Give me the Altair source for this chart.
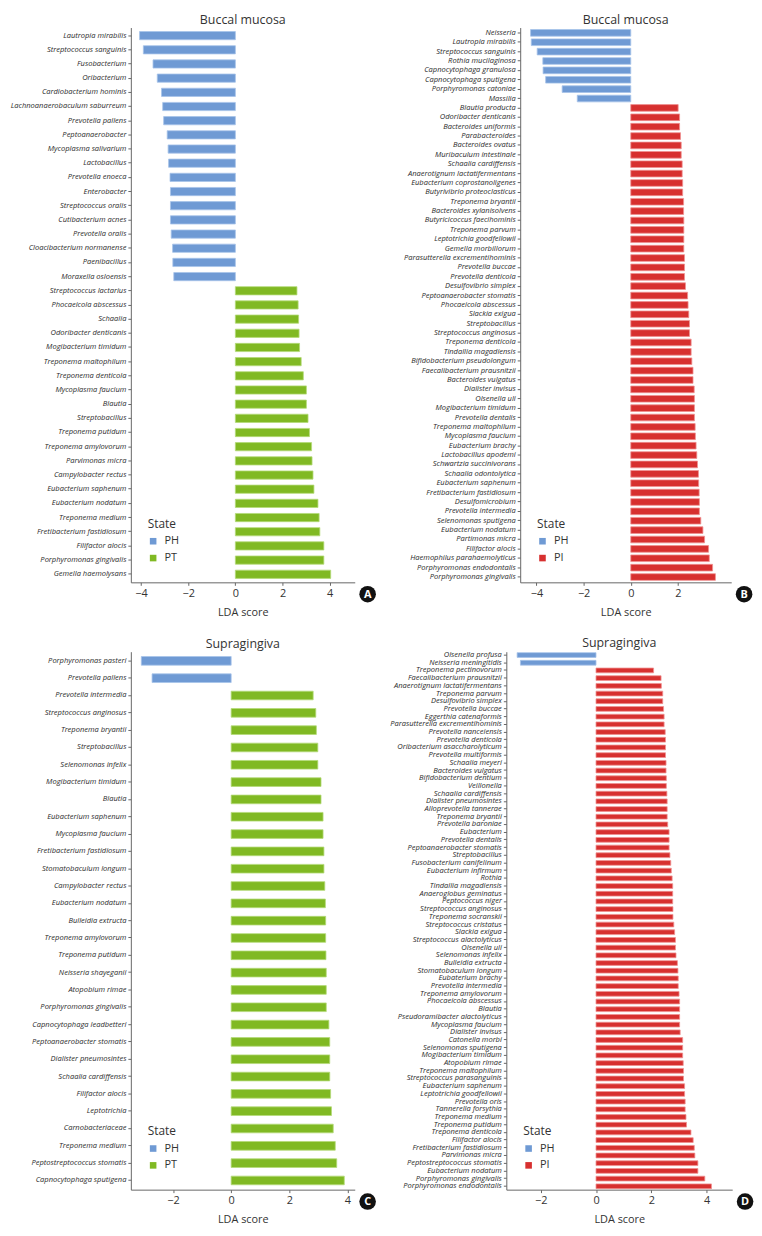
import altair as alt
import pandas as pd

BLUE, GREEN, RED = "#6f9ad4", "#80b923", "#d7302f"
BLUE_S, GREEN_S, RED_S = "#a8c3ea", "#b4da78", "#f09090"

# ---------------- Panel A : Buccal mucosa, PH vs PT ----------------
a_names = [
    "Lautropia mirabilis", "Streptococcus sanguinis", "Fusobacterium", "Oribacterium",
    "Cardiobacterium hominis", "Lachnoanaerobaculum saburreum", "Prevotella pallens",
    "Peptoanaerobacter", "Mycoplasma salivarium", "Lactobacillus", "Prevotella enoeca",
    "Enterobacter", "Streptococcus oralis", "Cutibacterium acnes", "Prevotella oralis",
    "Cloacibacterium normanense", "Paenibacillus", "Moraxella osloensis",
    "Streptococcus lactarius", "Phocaeicola abscessus", "Schaalia", "Odoribacter denticanis",
    "Mogibacterium timidum", "Treponema maltophilum", "Treponema denticola",
    "Mycoplasma faucium", "Blautia", "Streptobacillus", "Treponema putidum",
    "Treponema amylovorum", "Parvimonas micra", "Campylobacter rectus",
    "Eubacterium saphenum", "Eubacterium nodatum", "Treponema medium",
    "Fretibacterium fastidiosum", "Filifactor alocis", "Porphyromonas gingivalis",
    "Gemella haemolysans",
]
a_values = [
    -4.06, -3.90, -3.49, -3.31, -3.13, -3.08, -3.04, -2.89, -2.85, -2.83, -2.77, -2.75,
    -2.75, -2.75, -2.72, -2.66, -2.65, -2.61,
    2.61, 2.66, 2.68, 2.70, 2.72, 2.79, 2.88, 3.01, 3.01, 3.08, 3.14, 3.23, 3.25, 3.29,
    3.33, 3.50, 3.55, 3.58, 3.75, 3.75, 4.04,
]
a_states = ["PH"] * 18 + ["PT"] * 21

# ---------------- Panel B : Buccal mucosa, PH vs PI ----------------
b_names = [
    "Neisseria", "Lautropia mirabilis", "Streptococcus sanguinis", "Rothia mucilaginosa",
    "Capnocytophaga granulosa", "Capnocytophaga sputigena", "Porphyromonas catoniae", "Massilia",
    "Blautia producta", "Odoribacter denticanis", "Bacteroides uniformis", "Parabacteroides",
    "Bacteroides ovatus", "Muribaculum intestinale", "Schaalia cardiffensis",
    "Anaerotignum lactatifermentans", "Eubacterium coprostanoligenes",
    "Butyrivibrio proteoclasticus", "Treponema bryantii", "Bacteroides xylanisolvens",
    "Butyricicoccus faecihominis", "Treponema parvum", "Leptotrichia goodfellowii",
    "Gemella morbillorum", "Parasutterella excrementihominis", "Prevotella buccae",
    "Prevotella denticola", "Desulfovibrio simplex", "Peptoanaerobacter stomatis",
    "Phocaeicola abscessus", "Slackia exigua", "Streptobacillus", "Streptococcus anginosus",
    "Treponema denticola", "Tindallia magadiensis", "Bifidobacterium pseudolongum",
    "Faecalibacterium prausnitzii", "Bacteroides vulgatus", "Dialister invisus",
    "Olsenella uli", "Mogibacterium timidum", "Prevotella dentalis", "Treponema maltophilum",
    "Mycoplasma faucium", "Eubacterium brachy", "Lactobacillus apodemi",
    "Schwartzia succinivorans", "Schaalia odontolytica", "Eubacterium saphenum",
    "Fretibacterium fastidiosum", "Desulfomicrobium", "Prevotella intermedia",
    "Selenomonas sputigena", "Eubacterium nodatum", "Partimonas micra", "Filifactor alocis",
    "Haemophilus parahaemolyticus", "Porphyromonas endodontalis", "Porphyromonas gingivalis",
]
b_values = [
    -4.25, -4.22, -3.97, -3.73, -3.72, -3.61, -2.91, -2.27,
    2.01, 2.07, 2.07, 2.11, 2.14, 2.14, 2.18, 2.18, 2.20, 2.20, 2.24, 2.24, 2.25, 2.25,
    2.25, 2.25, 2.28, 2.28, 2.28, 2.32, 2.41, 2.43, 2.46, 2.49, 2.49, 2.56, 2.56, 2.59,
    2.64, 2.64, 2.69, 2.70, 2.70, 2.70, 2.73, 2.74, 2.77, 2.80, 2.83, 2.87, 2.88, 2.90,
    2.91, 2.91, 2.97, 3.06, 3.13, 3.30, 3.33, 3.47, 3.59,
]
b_states = ["PH"] * 8 + ["PI"] * 51

# ---------------- Panel C : Supragingiva, PH vs PT ----------------
c_names = [
    "Porphyromonas pasteri", "Prevotella pallens", "Prevotella intermedia",
    "Streptococcus anginosus", "Treponema bryantii", "Streptobacillus", "Selenomonas infelix",
    "Mogibacterium timidum", "Blautia", "Eubacterium saphenum", "Mycoplasma faucium",
    "Fretibacterium fastidiosum", "Stomatobaculum longum", "Campylobacter rectus",
    "Eubacterium nodatum", "Bulleidia extructa", "Treponema amylovorum", "Treponema putidum",
    "Neisseria shayeganii", "Atopobium rimae", "Porphyromonas gingivalis",
    "Capnocytophaga leadbetteri", "Peptoanaerobacter stomatis", "Dialister pneumosintes",
    "Schaalia cardiffensis", "Filifactor alocis", "Leptotrichia", "Carnobacteriaceae",
    "Treponema medium", "Peptostreptococcus stomatis", "Capnocytophaga sputigena",
]
c_values = [
    -3.09, -2.72,
    2.82, 2.91, 2.93, 2.98, 2.98, 3.09, 3.09, 3.16, 3.16, 3.19, 3.19, 3.22, 3.24, 3.25,
    3.25, 3.26, 3.27, 3.27, 3.27, 3.36, 3.39, 3.39, 3.39, 3.42, 3.45, 3.51, 3.58, 3.63, 3.89,
]
c_states = ["PH"] * 2 + ["PT"] * 29

# ---------------- Panel D : Supragingiva, PH vs PI ----------------
d_names = [
    "Olsenella profusa", "Neisseria meningitidis", "Treponema pectinovorum",
    "Faecalibacterium prausnitzii", "Anaerotignum lactatifermentans", "Treponema parvum",
    "Desulfovibrio simplex", "Prevotella buccae", "Eggerthia catenaformis",
    "Parasutterella excrementihominis", "Prevotella nanceiensis", "Prevotella denticola",
    "Oribacterium asaccharolyticum", "Prevotella multiformis", "Schaalia meyeri",
    "Bacteroides vulgatus", "Bifidobacterium dentium", "Veillonella", "Schaalia cardiffensis",
    "Dialister pneumosintes", "Alloprevotella tannerae", "Treponema bryantii",
    "Prevotella baroniae", "Eubacterium", "Prevotella dentalis", "Peptoanaerobacter stomatis",
    "Streptobacillus", "Fusobacterium canifelinum", "Eubacterium infirmum", "Rothia",
    "Tindallia magadiensis", "Anaeroglobus geminatus", "Peptococcus niger",
    "Streptococcus anginosus", "Treponema socranskii", "Streptococcus cristatus",
    "Slackia exigua", "Streptococcus alactolyticus", "Olsenella uli", "Selenomonas infelix",
    "Bulleidia extructa", "Stomatobaculum longum", "Eubaterium brachy", "Prevotella intermedia",
    "Treponema amylovorum", "Phocaeicola abscessus", "Blautia", "Pseudoramibacter alactolyticus",
    "Mycoplasma faucium", "Dialister invisus", "Catonella morbi", "Selenomonas sputigena",
    "Mogibacterium timidum", "Atopobium rimae", "Treponema maltophilum",
    "Streptococcus parasanguinis", "Eubacterium saphenum", "Leptotrichia goodfellowii",
    "Prevotella oris", "Tannerella forsythia", "Treponema medium", "Treponema putidum",
    "Treponema denticola", "Filifactor alocis", "Fretibacterium fastidiosum", "Parvimonas micra",
    "Peptostreptococcus stomatis", "Eubacterium nodatum", "Porphyromonas gingivalis",
    "Porphyromonas endodontalis",
]
d_values = [
    -2.85, -2.73,
    2.08, 2.35, 2.36, 2.41, 2.41, 2.44, 2.46, 2.46, 2.50, 2.51, 2.51, 2.51, 2.53, 2.53,
    2.54, 2.54, 2.56, 2.57, 2.57, 2.57, 2.59, 2.64, 2.64, 2.64, 2.67, 2.70, 2.72, 2.75,
    2.77, 2.77, 2.77, 2.78, 2.78, 2.81, 2.84, 2.87, 2.87, 2.89, 2.94, 2.96, 2.97, 2.97,
    3.00, 3.02, 3.02, 3.02, 3.02, 3.04, 3.13, 3.13, 3.13, 3.15, 3.16, 3.16, 3.20, 3.20,
    3.22, 3.22, 3.25, 3.27, 3.43, 3.51, 3.55, 3.57, 3.68, 3.68, 3.93, 4.17,
]
d_states = ["PH"] * 2 + ["PI"] * 68

FONT = "Open Sans"


def panel(names, values, states, title, groups, fills, strokes, width, height,
          xdomain, xticks, badge, p_inner, p_outer, y_extent):
    df = pd.DataFrame({"taxon": names, "lda": values, "State": states})
    df["base"] = 0.0
    bars = alt.Chart(df).mark_bar(strokeWidth=0.8).encode(
        x=alt.X("lda:Q",
                scale=alt.Scale(domain=xdomain, nice=False, zero=False),
                axis=alt.Axis(values=xticks, title="LDA score", grid=False)),
        x2="base:Q",
        y=alt.Y("taxon:N", sort=names, title=None,
                scale=alt.Scale(paddingInner=p_inner, paddingOuter=p_outer),
                axis=alt.Axis(minExtent=y_extent)),
        color=alt.Color("State:N", scale=alt.Scale(domain=groups, range=fills),
                        legend=alt.Legend(orient="none", legendX=17, legendY=height - 64,
                                          title="State", symbolType="square",
                                          symbolSize=44, symbolStrokeWidth=0,
                                          rowPadding=5, titlePadding=5, padding=0,
                                          labelOffset=6)),
        stroke=alt.Stroke("State:N", scale=alt.Scale(domain=groups, range=strokes),
                          legend=None),
    )
    bdf = pd.DataFrame({"badge": [badge]})
    dot = alt.Chart(bdf).mark_circle(size=280, color="#111111", opacity=1).encode(
        x=alt.value(width + 13), y=alt.value(height + 12))
    txt = alt.Chart(bdf).mark_text(color="white", fontWeight="bold", fontSize=11,
                                   font=FONT, align="center", baseline="middle").encode(
        text="badge:N", x=alt.value(width + 13), y=alt.value(height + 12.5))
    return alt.layer(bars, dot, txt).properties(
        width=width, height=height,
        title=alt.TitleParams(title, fontSize=12.5, fontWeight="normal", color="#333333",
                              font=FONT, offset=1, anchor="middle"),
    )


pA = panel(a_names, a_values, a_states, "Buccal mucosa", ["PH", "PT"], [BLUE, GREEN],
           [BLUE_S, GREEN_S], 226, 560, [-4.43, 5.06], [-4, -2, 0, 2, 4], "A", 0.42, 0.28, 124)
pB = panel(b_names, b_values, b_states, "Buccal mucosa", ["PH", "PI"], [BLUE, RED],
           [BLUE_S, RED_S], 213, 560, [-4.69, 4.26], [-4, -2, 0, 2], "B", 0.29, 0.21, 122)
pC = panel(c_names, c_values, c_states, "Supragingiva", ["PH", "PT"], [BLUE, GREEN],
           [BLUE_S, GREEN_S], 226, 543, [-3.45, 4.25], [-2, 0, 2, 4], "C", 0.5, 0.28, 124)
pD = panel(d_names, d_values, d_states, "Supragingiva", ["PH", "PI"], [BLUE, RED],
           [BLUE_S, RED_S], 228, 543, [-3.24, 4.92], [-2, 0, 2, 4], "D", 0.38, 0.125, 122)

row1 = alt.hconcat(pA, pB, spacing=23).resolve_scale(
    x="independent", y="independent", color="independent", stroke="independent")
row2 = alt.hconcat(pC, pD, spacing=9).resolve_scale(
    x="independent", y="independent", color="independent", stroke="independent")

chart = alt.vconcat(row1, row2, spacing=20).resolve_scale(
    x="independent", y="independent", color="independent", stroke="independent"
).properties(padding={"left": 0, "top": 0, "right": 0, "bottom": 0}
).configure_view(stroke=None).configure_axis(
    domainColor="#666666", tickColor="#666666", labelColor="#2b2b2b",
    titleColor="#333333", labelFont=FONT, titleFont=FONT, grid=False,
).configure_axisY(
    labelFontSize=7.6, labelFontStyle="italic", tickSize=3, labelPadding=2,
    labelLimit=200,
).configure_axisX(
    labelFontSize=11, titleFontSize=11, titleFontWeight="normal", tickSize=3,
    labelPadding=2, titlePadding=8, labelColor="#333333",
).configure_legend(
    titleFont=FONT, labelFont=FONT, titleFontSize=12, titleFontWeight="normal",
    labelFontSize=11, titleColor="#333333", labelColor="#333333",
)

chart.save("out.html", embed_options={"renderer": "svg", "actions": False})
